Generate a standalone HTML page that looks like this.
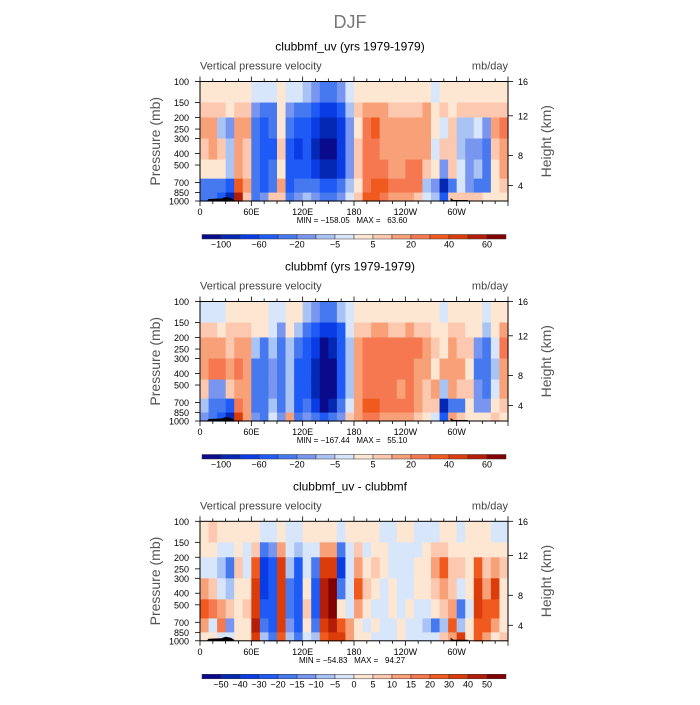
<!DOCTYPE html>
<html><head><meta charset="utf-8"><style>
body{margin:0;background:#fff;}
svg text{font-family:"Liberation Sans",sans-serif;white-space:pre;}
</style></head><body>
<svg id="chart" width="700" height="700" viewBox="0 0 700 700" xmlns="http://www.w3.org/2000/svg">
<text x="350" y="28" font-size="18" fill="#777" text-anchor="middle">DJF</text>
</svg>
<script>
const longitudes = [0,10,20,30,40,50,60,70,80,90,100,110,120,130,140,150,160,170,180,190,200,210,220,230,240,250,260,270,280,290,300,310,320,330,340,350];
const pressureEdges = [100,150,200,300,450,650,850,1000];
const pressureTicks = [100,150,200,250,300,400,500,700,850,1000];
const heightTicks = [16,12,8,4];
const lonTickLabels = ["0","60E","120E","180","120W","60W"];
const lonTickValues = [0,60,120,180,240,300];
const levelsA = [-100,-80,-60,-40,-20,-10,-5,0,5,10,20,30,40,50,60];
const labelsA = ["-100","-60","-20","-5","5","20","40","60"];
const levelsB = [-50,-40,-30,-20,-15,-10,-5,0,5,10,15,20,30,40,50];
const labelsB = ["-50","-40","-30","-20","-15","-10","-5","0","5","10","15","20","30","40","50"];
const palette = ["#0a0a8c","#0528b4","#0a3ce6","#1e5af5","#4678f0","#7896f0","#aac3f5","#d7e6fa","#fde6d2","#fcc8af","#f8a078","#f57850","#f05a1e","#dc3c0a","#b41e08","#820000"];

const panel1Values = [
[3,8,12,8,4,-25,-30],[3,8,12,10,3,-30,-40],[2,5,-8,5,4,-40,-50],[3,3,-15,-8,-8,-60,-90],
[3,5,10,15,10,30,50],[3,5,10,8,5,15,8],[-3,-20,-40,-40,-40,-40,-30],[-3,-30,-50,-50,-50,-50,-20],
[-5,-30,-30,-50,-40,-30,5],[3,3,3,5,3,10,5],[-5,-20,-40,-50,-50,-50,-30],[-5,-40,-60,-70,-60,-40,-15],
[-10,-40,-50,-50,-50,-30,-10],[-20,-60,-80,-90,-70,-40,-20],[-30,-70,-100,-110,-90,-60,-30],[-30,-70,-100,-110,-100,-60,-40],
[-20,-50,-80,-80,-70,-40,-20],[-5,-10,-20,-20,-20,-10,-5],[3,5,3,5,5,3,5],[3,10,20,20,20,25,30],
[3,10,30,20,20,30,30],[3,10,15,15,20,30,25],[2,8,12,15,15,20,15],[2,8,12,15,15,20,15],
[3,8,15,15,20,25,10],[3,8,12,15,20,20,5],[3,10,12,10,8,-10,-5],[-3,3,3,-5,3,-20,-10],
[3,5,-5,5,-20,-100,-60],[3,3,5,8,5,-40,5],[3,5,-10,-8,-5,-5,5],[3,5,-10,-20,-20,-20,5],
[3,8,-5,-15,-10,-30,5],[3,8,-15,-30,-30,-40,3],[3,5,10,5,3,3,3],[3,5,20,15,10,5,3]];
const panel2Values = [
[-3,8,15,15,5,-10,-20],[-3,8,15,20,-20,-30,-40],[-3,3,10,20,-20,-40,-60],[3,5,8,10,5,-60,-90],
[3,8,10,20,10,20,40],[3,5,10,10,10,10,10],[3,3,-10,-30,-30,-30,-20],[3,3,-30,-40,-40,-40,-30],
[-3,-5,-10,-20,-20,-10,-5],[-3,-20,-40,-40,-40,-40,-20],[3,3,-10,-10,-10,-10,10],[3,-10,-30,-50,-60,-60,-30],
[-10,-40,-60,-60,-50,-40,-20],[-20,-60,-80,-90,-90,-70,-40],[-30,-70,-110,-130,-130,-110,-50],[-30,-70,-100,-120,-120,-100,-40],
[-10,-50,-60,-60,-60,-40,-15],[-3,-5,-10,-10,-10,-5,5],[3,5,10,15,15,15,10],[3,8,20,20,20,30,20],
[3,10,20,20,20,30,20],[3,10,20,20,20,20,15],[3,8,20,20,20,20,15],[3,8,20,20,15,20,10],
[3,10,25,25,20,20,10],[3,8,20,15,10,15,5],[3,5,10,10,5,5,3],[3,3,5,3,10,5,-5],
[-3,3,3,10,-10,-100,-60],[3,5,10,15,10,-40,10],[3,5,5,10,8,-40,5],[3,3,5,3,5,3,3],
[3,3,-20,-30,-20,-20,3],[-3,-10,-40,-40,-30,-20,3],[3,3,-5,-10,-5,3,5],[3,10,20,15,10,5,3]];
const panel3Values = [
[3,3,-3,10,20,10,3],[5,3,-3,5,15,-5,3],[3,-5,-10,-5,10,15,-5],[3,-5,-20,-10,5,-15,-5],
[3,3,5,3,3,3,3],[3,-3,-3,3,5,3,3],[3,5,20,30,30,40,30],[-3,-20,-40,-40,-30,-20,-10],
[-5,-15,-30,-30,-30,-30,-20],[3,10,30,30,30,30,25],[-3,-5,-10,-20,-20,-15,-10],[-5,-10,-30,-30,-25,-25,-20],
[3,-5,-5,3,5,3,-5],[3,-5,-20,-30,-30,-20,-10],[3,10,30,40,40,30,20],[3,10,30,50,50,40,30],
[-3,-20,-40,-20,3,20,30],[3,-5,-5,-3,-3,10,10],[3,5,10,20,10,3,3],[3,-3,3,5,3,-5,3],
[3,3,5,3,-3,3,-5],[-3,3,3,-3,-5,-3,-3],[-3,-3,-3,3,3,-3,-3],[3,-3,-3,-3,-5,3,3],
[3,-5,-5,-3,3,-3,-3],[-3,-3,3,3,-5,-5,-3],[-3,3,3,3,-3,-10,-5],[-3,5,10,5,3,-20,-5],
[3,5,20,10,5,-10,5],[3,3,5,5,10,20,10],[-3,3,5,-5,-20,-10,30],[3,3,3,3,-5,3,3],
[3,3,20,30,30,20,20],[3,3,5,10,20,20,10],[-3,3,10,30,20,10,3],[-3,3,5,3,3,3,5]];

const NS="http://www.w3.org/2000/svg";
const svg=document.getElementById('chart');
function mk(tag,attrs,parent){const e=document.createElementNS(NS,tag);for(const k in attrs)e.setAttribute(k,attrs[k]);(parent||svg).appendChild(e);return e;}
function txt(x,y,s,size,anchor,fill,parent){const t=mk('text',{x:x,y:y,'font-size':size,'text-anchor':anchor||'middle',fill:fill||'#000'},parent);t.textContent=s;return t;}
const X0=200,X1=508,H=119.5;
function xScale(lon){return X0+(lon/360)*(X1-X0);}
function binIndex(v,levels){let i=0;while(i<levels.length&&v>=levels[i])i++;return i;}
const heightY=[0,34.3,74,104];

function drawPanel(top,title,values,levels,labels,minmax,everyLabel){
  const g=mk('g',{});
  
  
  const yScale=p=>top+H*Math.log(p/100)/Math.log(10);
  const t=txt(350,top-31,title,12,'middle','#000',g);
  
  const l=txt(X0,top-12,'Vertical pressure velocity',11,'start','#444',g);
  
  const u=txt(X1,top-12,'mb/day',11,'end','#444',g);
  
  const cw=(X1-X0)/longitudes.length;
  values.forEach((col,i)=>{
    col.forEach((v,j)=>{
      const y0=yScale(pressureEdges[j]),y1=yScale(pressureEdges[j+1]);
      const r=mk('rect',{x:xScale(longitudes[i]).toFixed(2),y:y0.toFixed(2),width:(cw+0.6).toFixed(2),height:(y1-y0+0.6).toFixed(2),fill:palette[binIndex(v,levels)]},g);
      
      
    });
  });
  const bot=top+H;
  const topo=mk('path',{d:`M${xScale(8)} ${bot} L${xScale(10)} ${bot-2} L${xScale(25)} ${bot-2.5} L${xScale(30)} ${bot-4} L${xScale(36)} ${bot-3} L${xScale(40)} ${bot-1} L${xScale(40)} ${bot} Z M${xScale(293)} ${bot} L${xScale(293)} ${bot-3} L${xScale(296)} ${bot-1} L${xScale(313)} ${bot-1} L${xScale(313)} ${bot} Z`,fill:'#000'},g);
  
  const fr=mk('rect',{x:X0,y:top,width:X1-X0,height:H,fill:'none',stroke:'#000','stroke-width':1},g);
  
  for(let lon=0;lon<=360;lon+=15){
    const x=xScale(lon),len=lon%60===0?5:3;
    mk('line',{x1:x,y1:bot,x2:x,y2:bot+len,stroke:'#000','stroke-width':0.8},g);
    mk('line',{x1:x,y1:top,x2:x,y2:top-len,stroke:'#000','stroke-width':0.8},g);
  }
  lonTickValues.forEach((lon,i)=>{const e=txt(xScale(lon),bot+14,lonTickLabels[i],9,'middle','#000',g);});
  pressureTicks.forEach(p=>{const y=yScale(p);mk('line',{x1:X0,y1:y,x2:X0-5,y2:y,stroke:'#000','stroke-width':0.8},g);
    const e=txt(X0-11,y+3.5,String(p),9,'end','#000',g);});
  heightTicks.forEach((h,i)=>{const y=top+heightY[i];mk('line',{x1:X1,y1:y,x2:X1+5,y2:y,stroke:'#000','stroke-width':0.8},g);
    const e=txt(X1+10,y+3.5,String(h),9,'start','#000',g);});
  const ya=mk('text',{x:0,y:0,'font-size':14,'text-anchor':'middle',fill:'#555',transform:`translate(160 ${top+H/2}) rotate(-90)`},g);
  ya.textContent='Pressure (mb)';
  const yb=mk('text',{x:0,y:0,'font-size':14,'text-anchor':'middle',fill:'#555',transform:`translate(551 ${top+H/2}) rotate(-90)`},g);
  yb.textContent='Height (km)';
  const mm=txt(352,bot+22,minmax,8,'middle','#000',g);
  
  const cy=bot+33.5,cx0=202,cx1=506,bw=(cx1-cx0)/palette.length;
  palette.forEach((c,i)=>{const r=mk('rect',{x:cx0+i*bw,y:cy,width:bw,height:4.5,fill:c,stroke:'#333','stroke-width':0.5},g);
    });
  labels.forEach((s,i)=>{const k=everyLabel?i+1:2*i+1;
    const e=txt(cx0+k*bw,cy+13,s.replace('-','\u2212'),9,'middle','#000',g);});
}
drawPanel(81.5,'clubbmf_uv (yrs 1979-1979)',panel1Values,levelsA,labelsA,'MIN = \u2212158.05   MAX =   63.60',false);
drawPanel(301.5,'clubbmf (yrs 1979-1979)',panel2Values,levelsA,labelsA,'MIN = \u2212167.44   MAX =   55.10',false);
drawPanel(521.3,'clubbmf_uv - clubbmf',panel3Values,levelsB,labelsB,'MIN = \u221254.83   MAX =   94.27',true);
</script>
</body></html>
